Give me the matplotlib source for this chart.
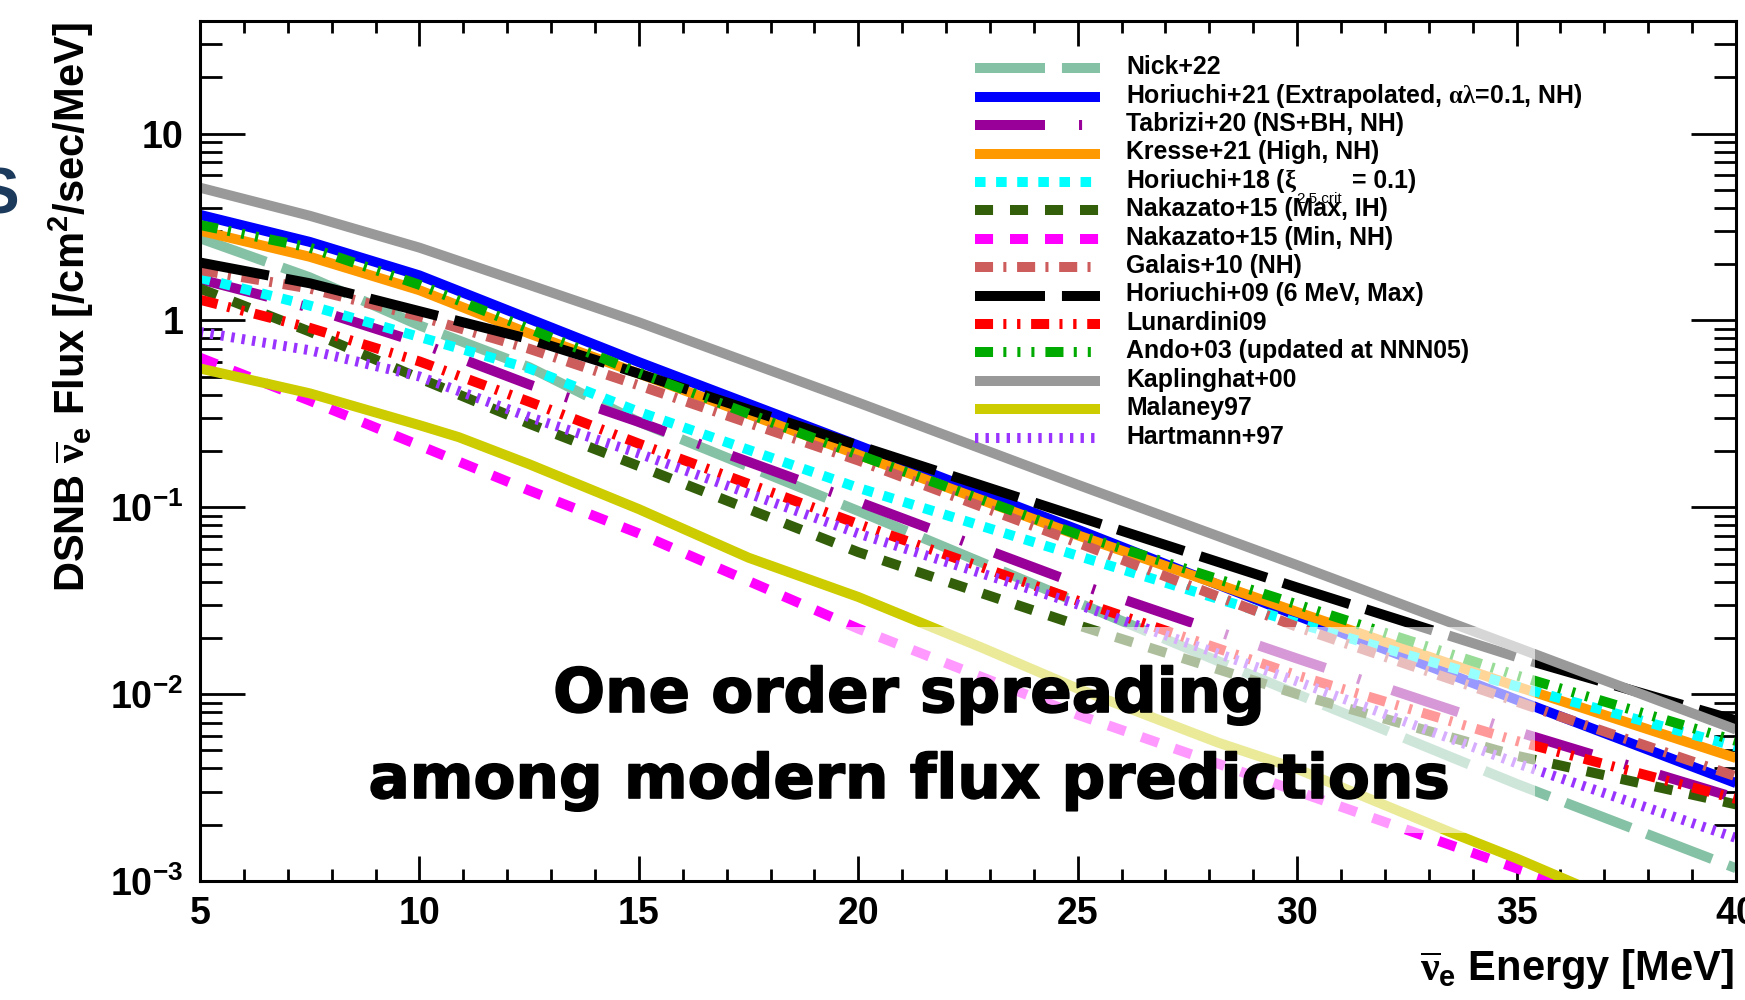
import matplotlib
matplotlib.use('Agg')
import matplotlib.pyplot as plt
from matplotlib.lines import Line2D
from matplotlib.patches import Rectangle
import matplotlib.ticker as mticker
import matplotlib.patheffects as pe

plt.rcParams['font.family'] = ['Liberation Sans', 'DejaVu Sans']
plt.rcParams['font.weight'] = 'bold'
plt.rcParams['mathtext.fontset'] = 'custom'
plt.rcParams['mathtext.rm'] = 'Liberation Serif'
plt.rcParams['mathtext.it'] = 'Liberation Serif:italic'
plt.rcParams['mathtext.bf'] = 'Liberation Sans:bold'
plt.rcParams['mathtext.sf'] = 'Liberation Sans:bold'
plt.rcParams['mathtext.default'] = 'bf'
plt.rcParams['lines.scale_dashes'] = False

# ---------------- data ----------------
energy = [5, 7.5, 10, 12.5, 15, 20, 25, 30, 35, 40]
energy_nakazato_min = [5, 7.5, 10, 12.5, 15, 20, 25, 30, 35, 36.5]
energy_malaney = [5, 7.5, 10, 10.9, 12.5, 15, 17.5, 20, 22.8, 25, 28.2, 30, 33.5, 35, 36.5]

flux_nick22 = [2.75, 1.70, 0.940, 0.562, 0.286, 0.0955, 0.0309, 0.0100, 0.00331, 0.00117]
flux_horiuchi21 = [3.67, 2.63, 1.74, 1.02, 0.598, 0.214, 0.0759, 0.0263, 0.00933, 0.00334]
flux_tabrizi20 = [1.66, 1.17, 0.759, 0.454, 0.286, 0.107, 0.0389, 0.0155, 0.00631, 0.00278]
flux_kresse21 = [3.02, 2.19, 1.45, 0.851, 0.519, 0.191, 0.0708, 0.0275, 0.0110, 0.00455]
flux_horiuchi18 = [1.69, 1.20, 0.815, 0.553, 0.324, 0.127, 0.0550, 0.0240, 0.0110, 0.00525]
flux_nakazato15_max = [1.48, 0.871, 0.490, 0.280, 0.166, 0.0575, 0.0234, 0.0100, 0.00468, 0.00257]
flux_nakazato15_min = [0.631, 0.372, 0.214, 0.123, 0.0724, 0.0224, 0.00776, 0.00302, 0.00117, 0.000891]
flux_galais10 = [1.86, 1.48, 1.05, 0.705, 0.449, 0.178, 0.0646, 0.0229, 0.00912, 0.00363]
flux_horiuchi09 = [2.04, 1.58, 1.12, 0.794, 0.519, 0.214, 0.0891, 0.0372, 0.0158, 0.00724]
flux_lunardini09 = [1.29, 0.912, 0.603, 0.367, 0.219, 0.0813, 0.0316, 0.0126, 0.00562, 0.00275]
flux_ando03 = [3.24, 2.45, 1.55, 0.902, 0.525, 0.191, 0.0716, 0.0302, 0.0126, 0.00562]
flux_kaplinghat00 = [5.13, 3.63, 2.45, 1.55, 0.977, 0.363, 0.132, 0.0490, 0.0178, 0.00646]
flux_malaney97 = [0.553, 0.407, 0.275, 0.237, 0.170, 0.0977, 0.0537, 0.0331, 0.0178, 0.0107,
                  0.00550, 0.00398, 0.00182, 0.00132, 0.000933]
flux_hartmann97 = [0.867, 0.692, 0.501, 0.304, 0.194, 0.0724, 0.0302, 0.0117, 0.00427, 0.00170]

labels = [
    "Nick+22",
    r"Horiuchi+21 (Extrapolated, $\mathrm{\alpha\lambda}$=0.1, NH)",
    "Tabrizi+20 (NS+BH, NH)",
    "Kresse+21 (High, NH)",
    r"Horiuchi+18 ($\mathrm{\xi}$",
    "Nakazato+15 (Max, IH)",
    "Nakazato+15 (Min, NH)",
    "Galais+10 (NH)",
    "Horiuchi+09 (6 MeV, Max)",
    "Lunardini09",
    "Ando+03 (updated at NNN05)",
    "Kaplinghat+00",
    "Malaney97",
    "Hartmann+97",
]
xi_label_tail = "= 0.1)"
xi_label_sub = "2.5,crit"

ytick_values = [1e-3, 1e-2, 1e-1, 1, 10]
ytick_labels = [r"$10^{-3}$", r"$10^{-2}$", r"$10^{-1}$", "1", "10"]
xtick_values = [5, 10, 15, 20, 25, 30, 35, 40]

series = [
    (energy, flux_nick22),
    (energy, flux_horiuchi21),
    (energy, flux_tabrizi20),
    (energy, flux_kresse21),
    (energy, flux_horiuchi18),
    (energy, flux_nakazato15_max),
    (energy_nakazato_min, flux_nakazato15_min),
    (energy, flux_galais10),
    (energy, flux_horiuchi09),
    (energy, flux_lunardini09),
    (energy, flux_ando03),
    (energy, flux_kaplinghat00),
    (energy_malaney, flux_malaney97),
    (energy, flux_hartmann97),
]

# ---------------- styles ----------------
colors = ['#85c1a4', '#0000ff', '#990099', '#ff9900', '#00ffff', '#335f0b',
          '#ff00ff', '#cd5c5c', '#000000', '#ff0000', '#00aa00', '#999999',
          '#cccc00', '#9933ff']
dash_patterns = [
    (50.4, 12.2),
    None,
    (50.4, 24.5, 2.2, 23.8),
    None,
    (7.6, 7.6),
    (13, 12.2),
    (13, 12.2),
    (13, 7.4, 2.2, 7.7),
    (50.4, 12.2),
    (13, 7.4, 2.2, 7.7, 2.4, 7.7),
    (13, 7.4, 2.2, 7.9, 2.2, 7.9, 2.2, 7.9),
    None,
    None,
    (2.4, 5.2),
]
LW = 7.2

W, H = 1745, 1000
fig = plt.figure(figsize=(W / 100, H / 100), dpi=100)
fig.patch.set_facecolor('white')


def fx(px):
    return px / W


def fy(py):
    return 1 - py / H


ax = fig.add_axes([fx(200), fy(881), fx(1736) - fx(200), fy(21) - fy(881)])
ax.set_yscale('log')
ax.set_xlim(5, 40)
ax.set_ylim(1e-3, 40)

for (xs, ys), c, d in zip(series, colors, dash_patterns):
    ln, = ax.plot(xs, ys, color=c, lw=LW, solid_capstyle='butt',
                  dash_capstyle='butt', solid_joinstyle='round')
    if d is not None:
        ln.set_dashes(d)

# axes / ticks
ax.set_xticks(xtick_values)
ax.set_xticklabels([str(v) for v in xtick_values], fontsize=27, fontweight='bold')
ax.xaxis.set_minor_locator(mticker.MultipleLocator(1))
ax.set_yticks(ytick_values)
ax.set_yticklabels(ytick_labels, fontsize=27, fontweight='bold')
ax.yaxis.set_minor_locator(mticker.LogLocator(base=10, subs=[2, 3, 4, 5, 6, 7, 8, 9], numticks=20))
ax.yaxis.set_minor_formatter(mticker.NullFormatter())
ax.tick_params(which='both', direction='in', top=True, right=True, width=2.0, color='black')
ax.tick_params(axis='x', which='major', length=18, pad=11)
ax.tick_params(axis='x', which='minor', length=8.6)
ax.tick_params(axis='y', which='major', length=32.4, pad=12)
ax.tick_params(axis='y', which='minor', length=15.8)
for sp in ax.spines.values():
    sp.set_linewidth(2.2)

# axis titles
fig.text(fx(71), fy(22), r"DSNB $\overline{\mathrm{\nu}}_{e}$ Flux [/cm$^{2}$/sec/MeV]",
         rotation=90, ha='center', va='top', fontsize=30, fontweight='bold')
fig.text(fx(1734), fy(980), r"$\overline{\mathrm{\nu}}_{e}$ Energy [MeV]",
         ha='right', va='baseline', fontsize=30, fontweight='bold')

# legend (no frame)
for i, (lab, c, d) in enumerate(zip(labels, colors, dash_patterns)):
    yrow = 68.3 + 28.4 * i
    ln = Line2D([fx(975), fx(1100)], [fy(yrow), fy(yrow)], transform=fig.transFigure,
                color=c, lw=LW, solid_capstyle='butt', dash_capstyle='butt')
    if d is not None:
        ln.set_dashes(d)
    fig.add_artist(ln)
    fig.text(fx(1126), fy(yrow + 6), lab, ha='left', va='baseline',
             fontsize=17.9, fontweight='bold')
    if i == 4:
        fig.text(fx(1352), fy(yrow + 6), xi_label_tail, ha='left', va='baseline',
                 fontsize=17.9, fontweight='bold')
        fig.text(fx(1296), fy(yrow + 21), xi_label_sub, ha='left', va='baseline',
                 fontsize=11, fontweight='normal')

# translucent box + annotation
fig.add_artist(Rectangle((fx(285), fy(833)), fx(1535) - fx(285), fy(627) - fy(833),
                         transform=fig.transFigure, facecolor='white', alpha=0.6,
                         edgecolor='none', zorder=1))
stroke = [pe.withStroke(linewidth=1.2, foreground='black')]
fig.text(fx(909), fy(712), "One order spreading", ha='center', va='baseline',
         fontsize=44, fontweight='bold', family='DejaVu Sans', zorder=3,
         path_effects=stroke)
fig.text(fx(909), fy(798), "among modern flux predictions", ha='center', va='baseline',
         fontsize=44, fontweight='bold', family='DejaVu Sans', zorder=3,
         path_effects=stroke)

# cropped slide artefact at left edge
fig.text(fx(-24), fy(196), "S", ha='left', va='center', fontsize=46,
         fontweight='bold', color='#1b3a5c')

fig.savefig('out.png', dpi=100)
